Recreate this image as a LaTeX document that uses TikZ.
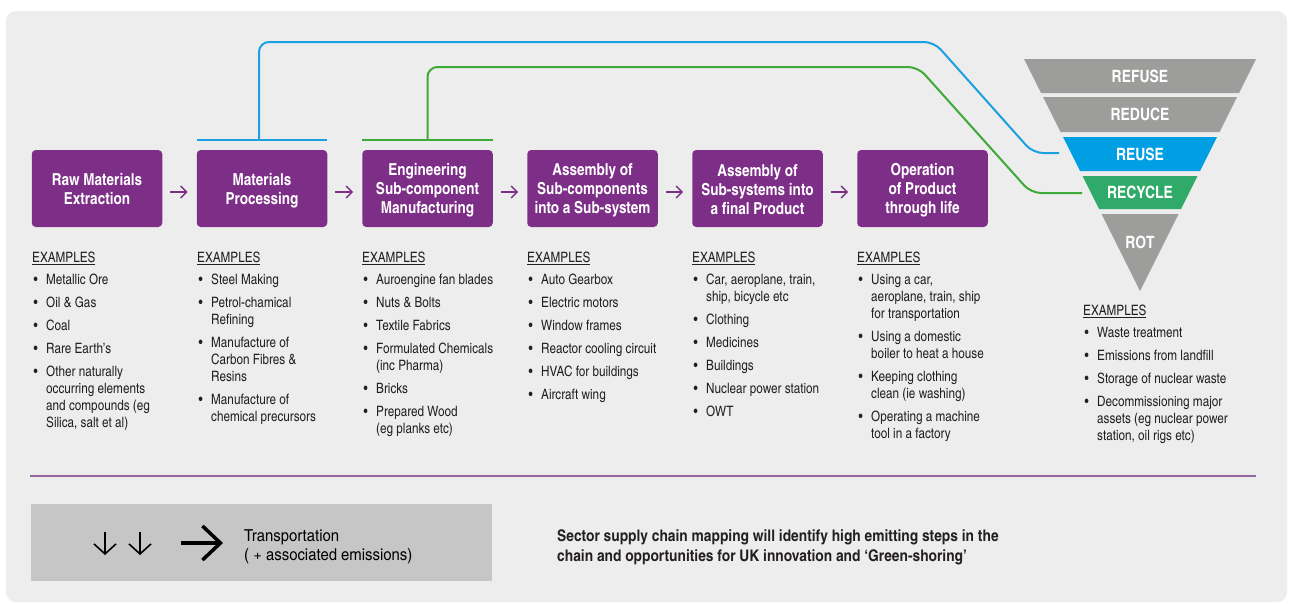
\documentclass[tikz,border=0pt]{standalone}
\usepackage{fontspec}
\setmainfont{texgyreheroscn}[Extension=.otf,UprightFont=*-regular,BoldFont=*-bold,ItalicFont=*-italic,BoldItalicFont=*-bolditalic]
\usetikzlibrary{arrows.meta}
\definecolor{panelgrey}{HTML}{EDEDED}
\definecolor{stagepurple}{HTML}{7D2E87}
\definecolor{seppurple}{HTML}{9466A0}
\definecolor{bandgrey}{HTML}{9D9D9C}
\definecolor{reuseblue}{HTML}{009FE3}
\definecolor{recyclegreen}{HTML}{2FAA68}
\definecolor{lineblue}{HTML}{1BA0E2}
\definecolor{linegreen}{HTML}{3DA936}
\definecolor{legendgrey}{HTML}{C6C6C6}
\definecolor{textdark}{HTML}{231F20}
\newcommand{\bul}{\hspace*{1.5pt}\makebox[12.5pt][l]{\textbullet}}
\newcommand{\cnt}{\hspace*{14pt}}
\newcommand{\firstl}{\rule{0pt}{16.5pt}}
\newcommand{\lastl}{\rule[-3.5pt]{0pt}{3.5pt}}
\begin{document}
\begin{tikzpicture}[x=1pt,y=-1pt,
  stagebox/.style={fill=stagepurple, rounded corners=4pt, minimum width=130.5pt, minimum height=77pt, inner sep=0pt, text=white, align=center, font=\bfseries\fontsize{16.5}{19}\selectfont},
  flow/.style={draw=stagepurple, line width=1.3pt, -{Straight Barb[length=6pt,width=12pt]}, shorten <=8pt, shorten >=9pt},
  bandtext/.style={text=white, inner sep=0pt, font=\bfseries\fontsize{17}{20}\selectfont},
  exlist/.style={anchor=north west, inner sep=0pt, align=left, text=textdark, font=\fontsize{14.3}{17}\selectfont},
  bluel/.style={draw=lineblue, line width=2pt},
  greenl/.style={draw=linegreen, line width=2pt},
  iconarrow/.style={draw=black, line width=1.6pt, -{Straight Barb[length=10pt,width=22pt]}}
]
\useasboundingbox (0,0) rectangle (1289,603);
\fill[white] (0,0) rectangle (1289,603);
\fill[panelgrey, rounded corners=10pt] (6,11) rectangle (1287,602);

% stages
\node[stagebox] (b1) at (97,188.5) {\firstl Raw Materials\\Extraction\lastl};
\node[stagebox] (b2) at (262,188.5) {\firstl Materials\\Processing\lastl};
\node[stagebox] (b3) at (427.5,188.5) {\firstl Engineering\\Sub-component\\Manufacturing\lastl};
\node[stagebox] (b4) at (592.5,188.5) {\firstl Assembly of\\Sub-components\\into a Sub-system\lastl};
\node[stagebox] (b5) at (757.5,188.5) {\firstl Assembly of\\Sub-systems into\\a final Product\lastl};
\node[stagebox] (b6) at (922.5,188.5) {\firstl Operation\\of Product\\through life\lastl};
\foreach \a/\b in {b1/b2,b2/b3,b3/b4,b4/b5,b5/b6}
  \draw[flow] ([yshift=-3.5pt]\a.east) -- ([yshift=-3.5pt]\b.west);

% funnel
\fill[bandgrey] (1024,59) -- (1256,59) -- (1239,93) -- (1041,93) -- cycle;
\fill[bandgrey] (1043,97) -- (1237,97) -- (1219.5,132) -- (1060.5,132) -- cycle;
\fill[reuseblue] (1063,137) -- (1217,137) -- (1200,171) -- (1080,171) -- cycle;
\fill[recyclegreen] (1082.5,176) -- (1197.5,176) -- (1181,209) -- (1099,209) -- cycle;
\fill[bandgrey] (1101.5,214) -- (1178.5,214) -- (1140,291) -- cycle;
\node[bandtext] (refuse) at (1140,76.5) {REFUSE};
\node[bandtext] (reduce) at (1140,114.5) {REDUCE};
\node[bandtext] (reuse) at (1140,154) {REUSE};
\node[bandtext] (recycle) at (1140,192.5) {RECYCLE};
\node[bandtext] (rot) at (1140,242) {ROT};

% reuse / recycle loops
\coordinate (bc1) at (934,42);
\coordinate (bc2) at (1033,153);
\coordinate (bend) at (1059,153);
\coordinate (gc1) at (918,67);
\coordinate (gc2) at (1031,193);
\coordinate (gend) at (1082,193);
\draw[bluel] ([yshift=10pt]b2.north west) -- ([yshift=10pt]b2.north east);
\draw[bluel, rounded corners=10pt] ([xshift=-3pt,yshift=10pt]b2.north) |- (bc1) -- (bc2) -- (bend);
\draw[greenl] ([yshift=10pt]b3.north west) -- ([yshift=10pt]b3.north east);
\draw[greenl, rounded corners=10pt] ([yshift=10pt]b3.north) |- (gc1) -- (gc2) -- (gend);

% examples
\node[exlist] (ex1) at (32,252) {\underline{EXAMPLES}\\[5pt]
\bul Metallic Ore\\[6pt]
\bul Oil \& Gas\\[6pt]
\bul Coal\\[6pt]
\bul Rare Earth’s\\[6pt]
\bul Other naturally\\
\cnt occurring elements\\
\cnt and compounds (eg\\
\cnt Silica, salt et al)};
\node[exlist] (ex2) at (197,252) {\underline{EXAMPLES}\\[5pt]
\bul Steel Making\\[6pt]
\bul Petrol-chamical\\
\cnt Refining\\[6pt]
\bul Manufacture of\\
\cnt Carbon Fibres \&\\
\cnt Resins\\[6pt]
\bul Manufacture of\\
\cnt chemical precursors};
\node[exlist] (ex3) at (362,252) {\underline{EXAMPLES}\\[5pt]
\bul Auroengine fan blades\\[6pt]
\bul Nuts \& Bolts\\[6pt]
\bul Textile Fabrics\\[6pt]
\bul Formulated Chemicals\\
\cnt (inc Pharma)\\[6pt]
\bul Bricks\\[6pt]
\bul Prepared Wood\\
\cnt (eg planks etc)};
\node[exlist] (ex4) at (527,252) {\underline{EXAMPLES}\\[5pt]
\bul Auto Gearbox\\[6pt]
\bul Electric motors\\[6pt]
\bul Window frames\\[6pt]
\bul Reactor cooling circuit\\[6pt]
\bul HVAC for buildings\\[6pt]
\bul Aircraft wing};
\node[exlist] (ex5) at (692,252) {\underline{EXAMPLES}\\[5pt]
\bul Car, aeroplane, train,\\
\cnt ship, bicycle etc\\[6pt]
\bul Clothing\\[6pt]
\bul Medicines\\[6pt]
\bul Buildings\\[6pt]
\bul Nuclear power station\\[6pt]
\bul OWT};
\node[exlist] (ex6) at (857,252) {\underline{EXAMPLES}\\[5pt]
\bul Using a car,\\
\cnt aeroplane, train, ship\\
\cnt for transportation\\[6pt]
\bul Using a domestic\\
\cnt boiler to heat a house\\[6pt]
\bul Keeping clothing\\
\cnt clean (ie washing)\\[6pt]
\bul Operating a machine\\
\cnt tool in a factory};
\node[exlist] (ex7) at (1083,305) {\underline{EXAMPLES}\\[5pt]
\bul Waste treatment\\[6pt]
\bul Emissions from landfill\\[6pt]
\bul Storage of nuclear waste\\[6pt]
\bul Decommissioning major\\
\cnt assets (eg nuclear power\\
\cnt station, oil rigs etc)};

% separator
\draw[seppurple, line width=1.2pt] (30,476) -- (1256,476);

% legend
\node[fill=legendgrey, anchor=north west, minimum width=461pt, minimum height=77pt, inner sep=0pt] (legend) at (31,504) {};
\draw[iconarrow] (105,532) -- (105,555);
\draw[iconarrow] (140,532) -- (140,555);
\draw[draw=black, line width=3.5pt, -{Straight Barb[length=18pt,width=34pt]}] (181,543) -- (223,543);
\node[anchor=north west, inner sep=0pt, align=left, text=black, font=\fontsize{16.5}{19}\selectfont\addfontfeatures{FakeStretch=1.1}] (trans) at (244,529) {Transportation\\( + associated emissions)};
\node[anchor=north west, inner sep=0pt, align=left, text=textdark, font=\bfseries\fontsize{16}{20}\selectfont\addfontfeatures{FakeStretch=1.05}] (sector) at (557,529) {Sector supply chain mapping will identify high emitting steps in the\\chain and opportunities for UK innovation and ‘Green-shoring’};
\end{tikzpicture}
\end{document}
